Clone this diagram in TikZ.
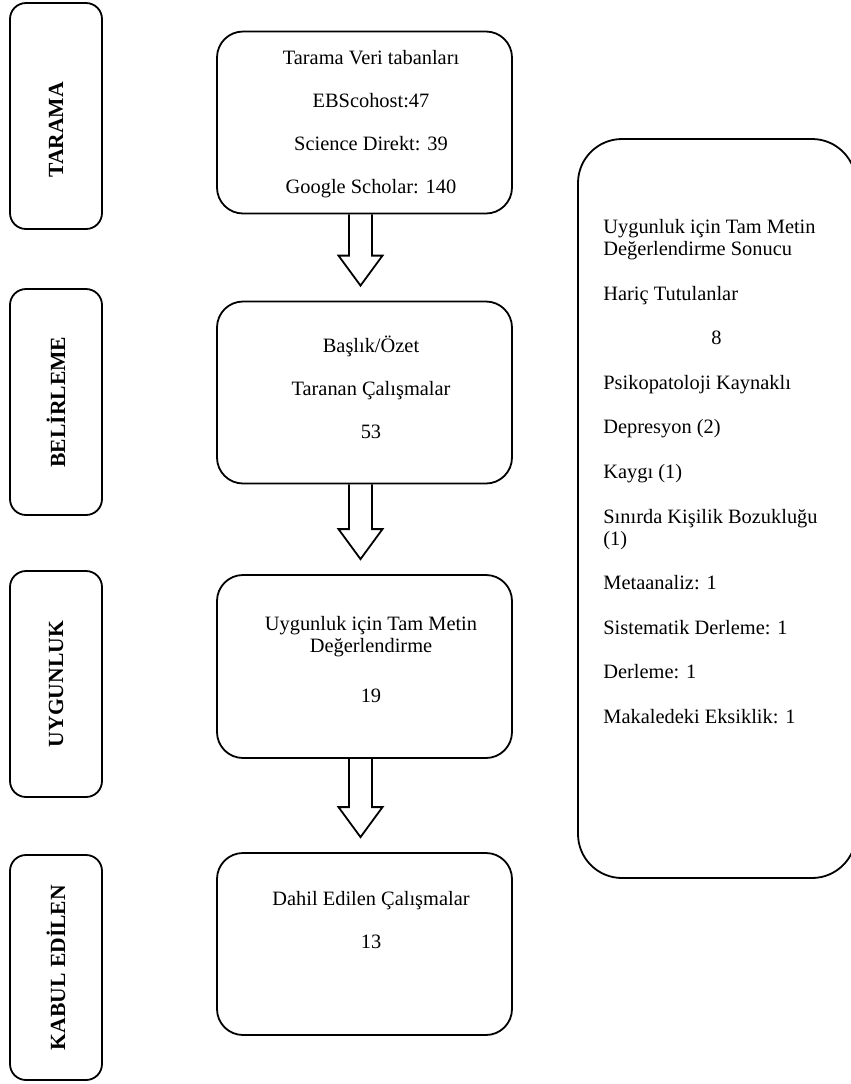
\documentclass[tikz,border=0pt]{standalone}
\usepackage{fontspec}
\setmainfont{Liberation Serif}
\usetikzlibrary{calc}

\begin{document}
\begin{tikzpicture}[x=0.5pt, y=-0.5pt]
\tikzset{phase/.style = {shape=rectangle, draw, line width=0.9pt, rounded corners=8pt, rotate=90, minimum width=113pt, minimum height=46pt, inner sep=0pt, font=\fontsize{10.8}{12}\selectfont\bfseries}}
    \tikzset{stagebox/.style = {shape=rectangle, draw, line width=0.9pt, rounded corners=13pt, minimum width=147.5pt, minimum height=91pt}}
    \tikzset{txt/.style = {align=center, inner sep=0pt, font=\fontsize{10.2}{11}\selectfont}}
    \tikzset{blockarrow/.style = {draw, line width=0.9pt, to path={($(\tikztostart)+(-15.5,0)$) -- ($(\tikztotarget)+(-15.5,-45)$) -- ($(\tikztotarget)+(-26,-45)$) -- ($(\tikztotarget)+(-4,-15)$) -- ($(\tikztotarget)+(18,-45)$) -- ($(\tikztotarget)+(7.5,-45)$) -- ($(\tikztostart)+(7.5,0)$)}}}
\useasboundingbox (0,0) rectangle (851,1084);

% phase labels on the left
\node[phase] (tarama) at (56,116) {TARAMA\hspace*{14pt}};
\node[phase] (belirleme) at (56,402) {BELİRLEME};
\node[phase] (uygunluk) at (56,684) {UYGUNLUK};
\node[phase, minimum width=112.5pt] (kabul) at (56,967.5) {KABUL EDİLEN};

% the four steps
\node[stagebox] (veri) at (364.5,122.5) {};
\node[stagebox] (baslik) at (364.5,392.5) {};
\node[stagebox, minimum height=91.5pt] (tammetin) at (364.5,666.5) {};
\node[stagebox] (dahil) at (364.5,944) {};

\node[txt, anchor=north] (veriT) at (371,50) {Tarama Veri tabanları\\[10.5pt] EBScohost:47\\[10.5pt] Science Direkt: 39\\[10.5pt] Google Scholar: 140};
\node[txt, anchor=north] (baslikT) at (371,336) {Başlık/Özet\\[10.5pt] Taranan Çalışmalar\\[10.5pt] 53};
\node[txt, anchor=north] (tammetinT) at (371,616) {Uygunluk için Tam Metin\\ Değerlendirme\\[14pt] 19};
\node[txt, anchor=north] (dahilT) at (371,891) {Dahil Edilen Çalışmalar\\[10.5pt] 13};

% block arrows between the steps
\draw[blockarrow] (veri.south) to (baslik.north);
\draw[blockarrow] (baslik.south) to (tammetin.north);
\draw[blockarrow] (tammetin.south) to (dahil.north);

% excluded studies
\node[shape=rectangle, draw, line width=0.9pt, rounded corners=22pt, minimum width=139pt, minimum height=369.5pt] (haric) at (717,508.5) {};
\node[txt, align=left, anchor=north west] (haricT) at (603,219) {Uygunluk için Tam Metin\\ Değerlendirme Sonucu\\[11.3pt] Hariç Tutulanlar\\[11.3pt] \hspace*{54pt}8\\[11.3pt] Psikopatoloji Kaynaklı\\[11.3pt] Depresyon (2)\\[11.3pt] Kaygı (1)\\[11.3pt] Sınırda Kişilik Bozukluğu\\ (1)\\[11.3pt] Metaanaliz: 1\\[11.3pt] Sistematik Derleme: 1\\[11.3pt] Derleme: 1\\[11.3pt] Makaledeki Eksiklik: 1};

\end{tikzpicture}
\end{document}
